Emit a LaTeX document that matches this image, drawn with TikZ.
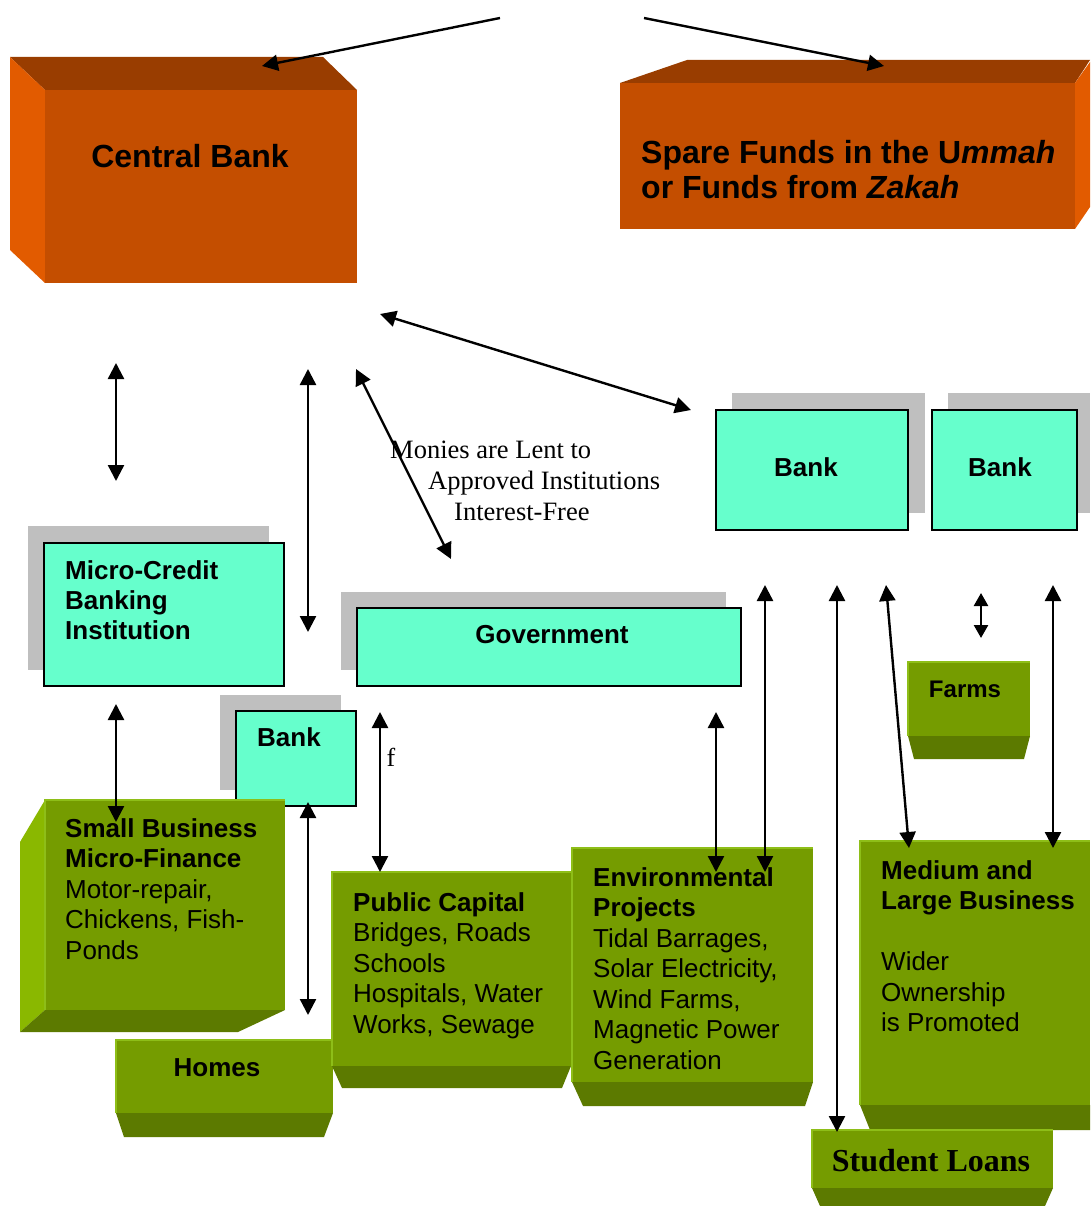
\documentclass[tikz,border=0pt]{standalone}
\usepackage{fontspec}
\setmainfont{Liberation Serif}
\newfontfamily\arialfont{Liberation Sans}
\usetikzlibrary{arrows.meta}
\definecolor{cbfront}{RGB}{196,78,0}
\definecolor{cbtop}{RGB}{153,61,0}
\definecolor{cbside}{RGB}{226,91,0}
\definecolor{grfront}{RGB}{117,156,0}
\definecolor{grbottom}{RGB}{92,122,0}
\definecolor{grside}{RGB}{138,184,0}
\definecolor{grhigh}{RGB}{142,190,24}
\definecolor{aqua}{RGB}{102,255,204}
\definecolor{backgrey}{RGB}{191,191,191}
\begin{document}
\begin{tikzpicture}[x=1pt,y=-1pt,
    link/.style={line width=2.4pt,{Triangle[length=16pt,width=16pt]}-{Triangle[length=16pt,width=16pt]}},
    oneway/.style={line width=2.4pt,-{Triangle[length=16pt,width=16pt]}},
    aquabox/.style={fill=aqua,draw=black,line width=2pt},
    greenface/.style={fill=grfront},
    edge/.style={draw=grhigh,line width=1.5pt},
    bigtxt/.style={font=\arialfont\bfseries\fontsize{32}{35.5}\selectfont,inner sep=0pt,align=left},
    boxtxt/.style={font=\arialfont\fontsize{26}{30.5}\selectfont,inner sep=0pt,align=left},
    labtxt/.style={font=\arialfont\bfseries\fontsize{26}{30}\selectfont,inner sep=0pt,align=left}]
\useasboundingbox (0,0) rectangle (1090,1206);
% central bank and spare funds
\fill[cbtop] (10,57) -- (323,57) -- (357,90) -- (45,90) -- cycle;
\fill[cbside] (10,57) -- (45,90) -- (45,283) -- (10,250) -- cycle;
\fill[cbfront] (45,90) rectangle (357,283);
\node[bigtxt] (cb) at (190,156) {Central Bank};
\fill[cbtop] (620,83) -- (687,60) -- (1090,60) -- (1075,83) -- cycle;
\fill[cbside] (1075,83) -- (1090,62) -- (1090,207) -- (1075,229) -- cycle;
\fill[cbfront] (620,83) rectangle (1075,229);
\node[bigtxt,anchor=north west] (spare) at (641,140) {Spare Funds in the U\textit{mmah}\\or Funds from \textit{Zakah}};
% banks
\fill[backgrey] (732,393) rectangle (925,513);
\draw[aquabox] (716,410) rectangle (908,530);
\node[labtxt] (bank1) at (806,467) {Bank};
\fill[backgrey] (948,393) rectangle (1090,513);
\draw[aquabox] (932,410) rectangle (1077,530);
\node[labtxt] (bank2) at (1000,467) {Bank};
\fill[backgrey] (28,526) rectangle (269,670);
\draw[aquabox] (44,543) rectangle (284,686);
\node[labtxt,anchor=north west] (micro) at (65,560) {Micro-Credit\\Banking\\Institution};
\fill[backgrey] (341,592) rectangle (726,670);
\draw[aquabox] (357,608) rectangle (741,686);
\node[labtxt] (gov) at (552,635) {Government};
\fill[backgrey] (220,695) rectangle (341,790);
\draw[aquabox] (236,711) rectangle (356,806);
\node[labtxt] (bank3) at (289,737) {Bank};
% green blocks
\fill[grside] (45,800) -- (20,842) -- (20,1032) -- (45,1010) -- cycle;
\fill[grbottom] (45,1010) -- (285,1010) -- (238,1032) -- (20,1032) -- cycle;
\fill[greenface] (45,800) rectangle (285,1010);
\draw[edge] (45,1010) -- (45,800) -- (285,800);
\node[boxtxt,anchor=north west] (small) at (65,818) {\textbf{Small Business}\\\textbf{Micro-Finance}\\Motor-repair,\\Chickens, Fish-\\Ponds};
\fill[grbottom] (116,1113) -- (333,1113) -- (324,1137) -- (124,1137) -- cycle;
\fill[greenface] (116,1040) rectangle (333,1113);
\draw[edge] (116,1113) -- (116,1040) -- (333,1040);
\node[labtxt] (homes) at (217,1068) {Homes};
\fill[grbottom] (332,1066) -- (571,1066) -- (562,1088) -- (342,1088) -- cycle;
\fill[greenface] (332,872) rectangle (571,1066);
\draw[edge] (332,1066) -- (332,872) -- (571,872);
\node[boxtxt,anchor=north west] (public) at (353,892) {\textbf{Public Capital}\\Bridges, Roads\\Schools\\Hospitals, Water\\Works, Sewage};
\fill[grbottom] (572,1082) -- (813,1082) -- (805,1106) -- (583,1106) -- cycle;
\fill[greenface] (572,848) rectangle (813,1082);
\draw[edge] (572,1082) -- (572,848) -- (813,848);
\node[boxtxt,anchor=north west] (env) at (593,867) {\textbf{Environmental}\\\textbf{Projects}\\Tidal Barrages,\\Solar Electricity,\\Wind Farms,\\Magnetic Power\\Generation};
\fill[grbottom] (860,1105) -- (1090,1105) -- (1090,1130) -- (870,1130) -- cycle;
\fill[greenface] (860,841) rectangle (1090,1105);
\draw[edge] (860,1105) -- (860,841) -- (1090,841);
\node[boxtxt,anchor=north west] (medium) at (881,860) {\textbf{Medium and}\\\textbf{Large Business}\\[30.5pt]Wider\\Ownership\\is Promoted};
\fill[grbottom] (812,1188) -- (1053,1188) -- (1045,1206) -- (820,1206) -- cycle;
\fill[greenface] (812,1130) rectangle (1053,1188);
\draw[edge] (812,1188) -- (812,1130) -- (1053,1130);
\node[font=\bfseries\fontsize{32}{36}\selectfont,inner sep=0pt] (loans) at (931,1161) {Student Loans};
\fill[grbottom] (908,736) -- (1030,736) -- (1024,759) -- (914,759) -- cycle;
\fill[greenface] (908,662) rectangle (1030,736);
\draw[edge] (908,736) -- (908,662) -- (1030,662);
\node[labtxt,font=\arialfont\bfseries\fontsize{24}{28}\selectfont] (farms) at (965,689) {Farms};
% texts
\node[font=\fontsize{26.5}{31}\selectfont,inner sep=0pt,align=left,anchor=north west] (lent) at (390,441)
  {Monies are Lent to\\\hspace*{38pt}Approved Institutions\\\hspace*{64pt}Interest-Free};
\node[font=\fontsize{26}{30}\selectfont,inner sep=0pt] (f) at (391,757) {f};
% arrows
\coordinate (src1) at (500,18);  \coordinate (cbin) at (262,66);
\coordinate (src2) at (644,18);  \coordinate (spin) at (884,66);
\draw[oneway] (src1) -- (cbin);
\draw[oneway] (src2) -- (spin);
\coordinate (a1) at (380,314);  \coordinate (a2) at (691,410);
\coordinate (b1) at (356,369);  \coordinate (b2) at (451,559);
\coordinate (c1) at (116,363);  \coordinate (c2) at (116,481);
\coordinate (d1) at (308,369);  \coordinate (d2) at (308,632);
\coordinate (e1) at (116,704);  \coordinate (e2) at (116,822);
\coordinate (g1) at (308,802);  \coordinate (g2) at (308,1015);
\coordinate (h1) at (380,712);  \coordinate (h2) at (380,872);
\coordinate (i1) at (716,712);  \coordinate (i2) at (716,872);
\coordinate (j1) at (765,585);  \coordinate (j2) at (765,872);
\coordinate (k1) at (837,585);  \coordinate (k2) at (837,1132);
\coordinate (l1) at (886,585);  \coordinate (l2) at (909,848);
\coordinate (m1) at (981,593);  \coordinate (m2) at (981,638);
\coordinate (n1) at (1053,585); \coordinate (n2) at (1053,848);
\foreach \p/\q in {a1/a2,b1/b2,c1/c2,d1/d2,e1/e2,g1/g2,h1/h2,i1/i2,j1/j2,k1/k2,l1/l2,n1/n2}
  \draw[link] (\p) -- (\q);
\draw[line width=2.4pt,{Triangle[length=13pt,width=14pt]}-{Triangle[length=13pt,width=14pt]}] (m1) -- (m2);
\end{tikzpicture}
\end{document}
